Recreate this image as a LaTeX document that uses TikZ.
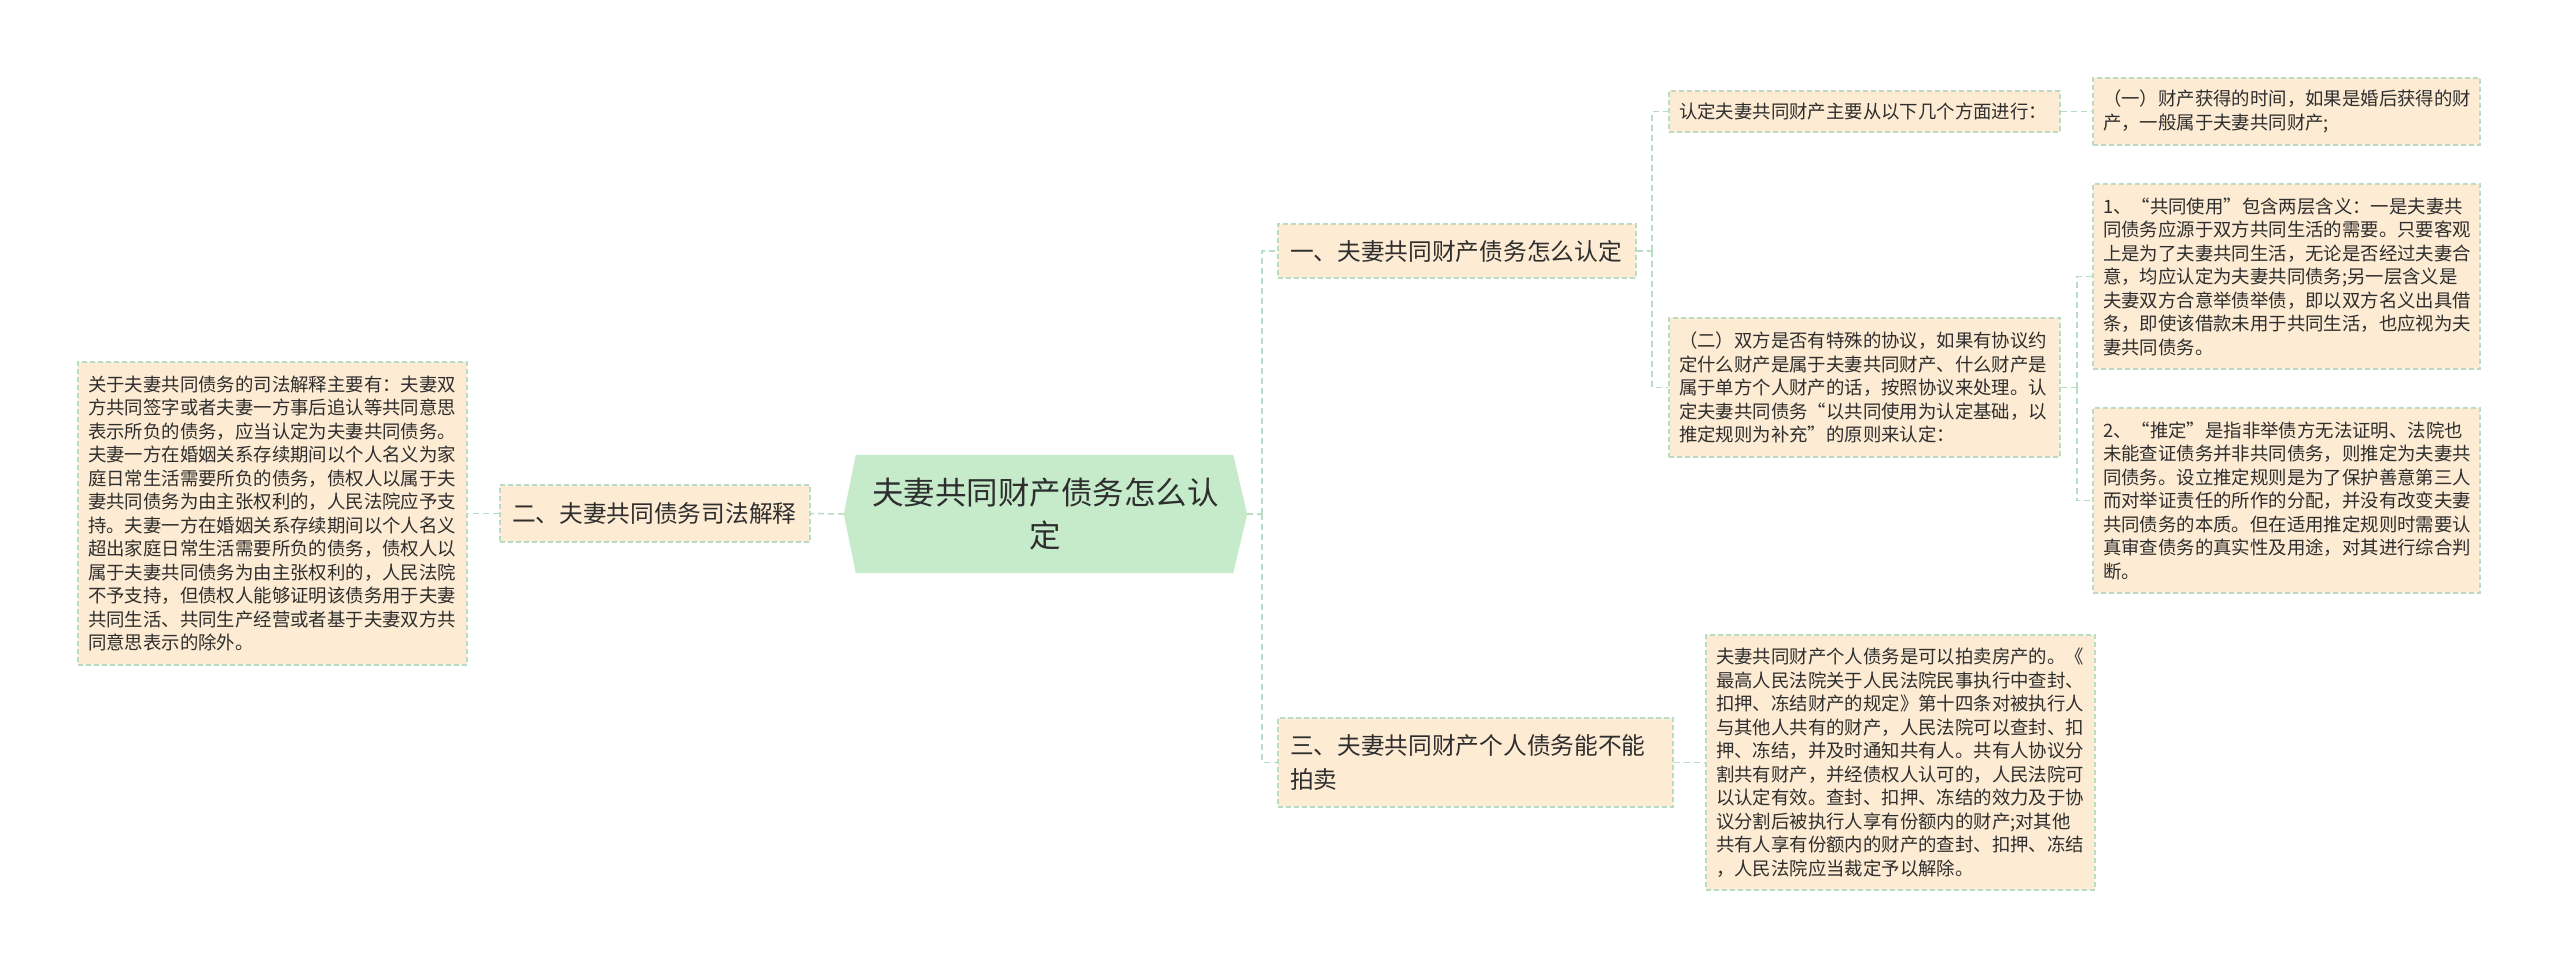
\documentclass[tikz,border=0pt]{standalone}
\usepackage{fontspec}
\setmainfont{Noto Sans CJK SC}
\usetikzlibrary{calc}
\definecolor{boxfill}{HTML}{FDEBD3}
\definecolor{boxline}{HTML}{B9DDC4}
\definecolor{linec}{HTML}{B9DDC4}
\definecolor{rootfill}{HTML}{C5EBCB}
\definecolor{textc}{HTML}{2E2E2E}
\begin{document}
\begin{tikzpicture}[x=1pt,y=-1pt,
  box/.style={draw=boxline, fill=boxfill, dash pattern=on 5pt off 3pt, line width=1.3pt,
    text=textc, inner ysep=0pt, inner xsep=10pt, align=left,
    font=\fontsize{18.4}{23.5}\selectfont},
  midbox/.style={box, inner xsep=12pt, font=\fontsize{23.7}{34}\selectfont},
  conn/.style={draw=linec, line width=1.5pt, dash pattern=on 6pt off 4pt}]
\useasboundingbox (0,0) rectangle (2560,969);

% root
\node[text=textc, align=center, inner sep=0pt, minimum width=403pt, minimum height=118pt,
  font=\fontsize{31.5}{42}\selectfont] (root) at (1045.5,514) {};
\fill[rootfill] ($(root.north west)+(12,0)$) -- ($(root.north east)+(-14,0)$) -- (root.east)
  -- ($(root.south east)+(-14,0)$) -- ($(root.south west)+(12,0)$) -- (root.west) -- cycle;
\node[text=textc, align=center, inner sep=0pt, font=\fontsize{31.5}{43}\selectfont]
  (roottext) at (root.center) {夫妻共同财产债务怎么认\\定};

% left side
\node[midbox, text width=286pt, minimum height=57pt] (er) at (655,513.5) {二、夫妻共同债务司法解释};
\node[box, text width=369pt, minimum height=303pt] (left) at (272.5,513.5)
{关于夫妻共同债务的司法解释主要有：夫妻双\\
方共同签字或者夫妻一方事后追认等共同意思\\
表示所负的债务，应当认定为夫妻共同债务。\\
夫妻一方在婚姻关系存续期间以个人名义为家\\
庭日常生活需要所负的债务，债权人以属于夫\\
妻共同债务为由主张权利的，人民法院应予支\\
持。夫妻一方在婚姻关系存续期间以个人名义\\
超出家庭日常生活需要所负的债务，债权人以\\
属于夫妻共同债务为由主张权利的，人民法院\\
不予支持，但债权人能够证明该债务用于夫妻\\
共同生活、共同生产经营或者基于夫妻双方共\\
同意思表示的除外。};

% right: level 1
\node[midbox, text width=334pt, minimum height=54pt] (yi) at (1457,251) {一、夫妻共同财产债务怎么认定};
\node[midbox, text width=371pt, minimum height=89pt] (san) at (1475.5,762.5) {三、夫妻共同财产个人债务能不能\\拍卖};

% level 2
\node[box, text width=371pt, minimum height=41pt] (rd) at (1864.5,111.5) {认定夫妻共同财产主要从以下几个方面进行：};
\node[box, text width=371pt, minimum height=139pt] (er2) at (1864.5,387.5)
{（二）双方是否有特殊的协议，如果有协议约\\
定什么财产是属于夫妻共同财产、什么财产是\\
属于单方个人财产的话，按照协议来处理。认\\
定夫妻共同债务“以共同使用为认定基础，以\\
推定规则为补充”的原则来认定：};
\node[box, text width=369pt, minimum height=255pt] (pm) at (1900.5,762.5)
{夫妻共同财产个人债务是可以拍卖房产的。《\\
最高人民法院关于人民法院民事执行中查封、\\
扣押、冻结财产的规定》第十四条对被执行人\\
与其他人共有的财产，人民法院可以查封、扣\\
押、冻结，并及时通知共有人。共有人协议分\\
割共有财产，并经债权人认可的，人民法院可\\
以认定有效。查封、扣押、冻结的效力及于协\\
议分割后被执行人享有份额内的财产;对其他\\
共有人享有份额内的财产的查封、扣押、冻结\\
，人民法院应当裁定予以解除。};

% level 3
\node[box, text width=367pt, minimum height=67pt] (y1) at (2286.5,111.5)
{（一）财产获得的时间，如果是婚后获得的财\\产，一般属于夫妻共同财产;};
\node[box, text width=367pt, minimum height=185pt] (n1) at (2286.5,276.5)
{1、“共同使用”包含两层含义：一是夫妻共\\
同债务应源于双方共同生活的需要。只要客观\\
上是为了夫妻共同生活，无论是否经过夫妻合\\
意，均应认定为夫妻共同债务;另一层含义是\\
夫妻双方合意举债举债，即以双方名义出具借\\
条，即使该借款未用于共同生活，也应视为夫\\
妻共同债务。};
\node[box, text width=367pt, minimum height=185pt] (n2) at (2286.5,500.5)
{2、“推定”是指非举债方无法证明、法院也\\
未能查证债务并非共同债务，则推定为夫妻共\\
同债务。设立推定规则是为了保护善意第三人\\
而对举证责任的所作的分配，并没有改变夫妻\\
共同债务的本质。但在适用推定规则时需要认\\
真审查债务的真实性及用途，对其进行综合判\\
断。};

% connectors
\coordinate (t1) at (1262,514);
\coordinate (t2) at (1652,251);
\coordinate (t3) at (2077,387.5);
\draw[conn] (root.west) -- (er.east);
\draw[conn] (er.west) -- (left.east);
\draw[conn] (root.east) -- (t1);
\draw[conn] (t1) |- (yi.west);
\draw[conn] (t1) |- (san.west);
\draw[conn] (yi.east) -- (t2);
\draw[conn] (t2) |- (rd.west);
\draw[conn] (t2) |- (er2.west);
\draw[conn] (rd.east) -- (y1.west);
\draw[conn] (er2.east) -- (t3);
\draw[conn] (t3) |- (n1.west);
\draw[conn] (t3) |- (n2.west);
\draw[conn] (san.east) -- (pm.west);
\end{tikzpicture}
\end{document}
